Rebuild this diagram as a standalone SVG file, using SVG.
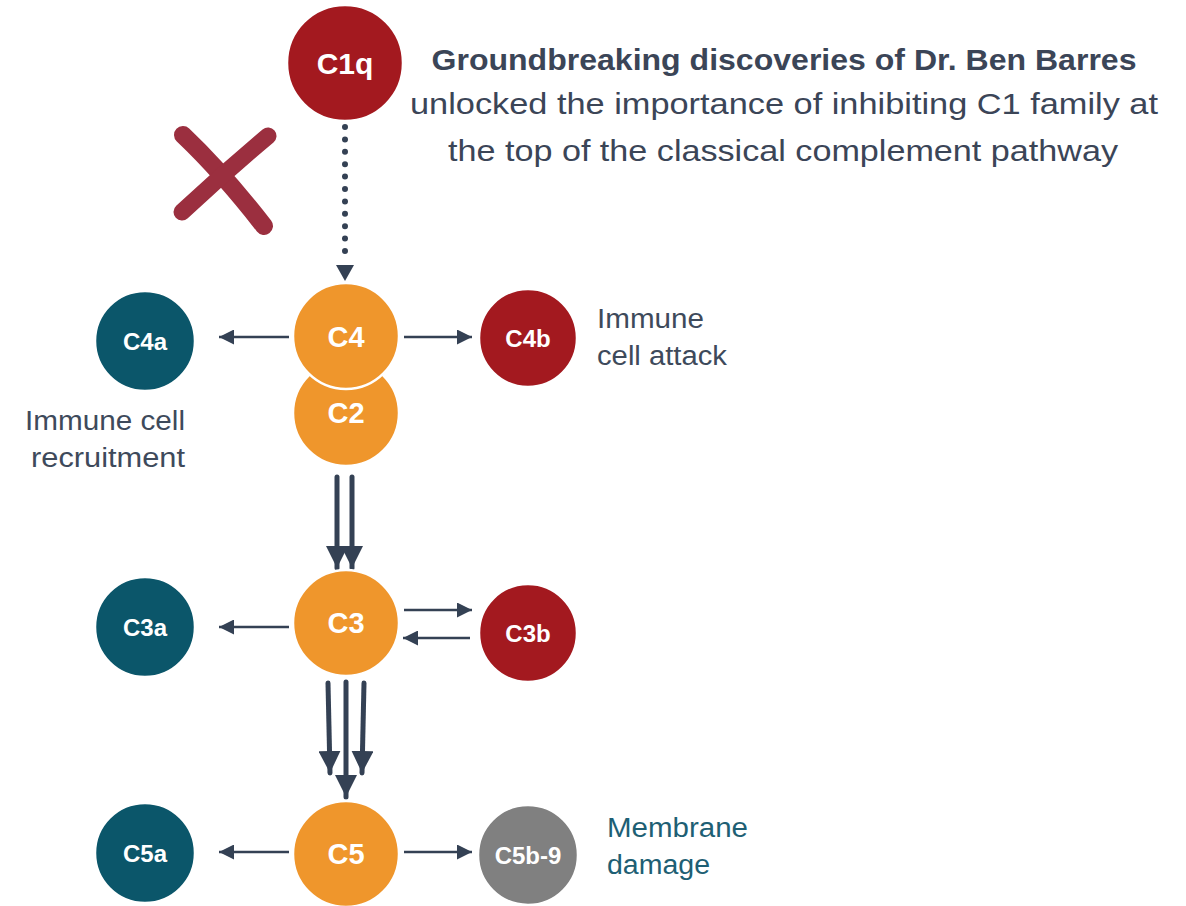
<svg xmlns="http://www.w3.org/2000/svg" width="1186" height="906" viewBox="0 0 1186 906">
<defs>
<style>
.n{stroke:#ffffff;stroke-width:2.5}
.red{fill:#a3191f}.org{fill:#ef962c}.teal{fill:#0b566a}.gray{fill:#808080}
.lbl{font-family:"Liberation Sans",Arial,sans-serif;font-weight:bold;fill:#ffffff;text-anchor:middle}
.s{font-size:24px}.b{font-size:29px}
.txt{font-family:"Liberation Sans",Arial,sans-serif;font-size:27px;fill:#3e4a5b}
.thin{stroke:#344154;stroke-width:2.5;fill:none}
.thick{stroke:#344154;stroke-width:5;fill:none;stroke-linecap:round}
</style>
<marker id="ah" viewBox="0 0 10 10" refX="10" refY="5" markerWidth="6" markerHeight="6" orient="auto" markerUnits="strokeWidth"><path d="M0,0 L10,5 L0,10 z" fill="#344154"/></marker>
<marker id="ahb" viewBox="0 0 10 10" refX="10" refY="5" markerWidth="4.4" markerHeight="4.4" orient="auto" markerUnits="strokeWidth"><path d="M0,0 L10,5 L0,10 z" fill="#344154"/></marker>
</defs>

<g id="connectors">
<line x1="345" y1="127" x2="345" y2="262" stroke="#344154" stroke-width="6" stroke-linecap="round" stroke-dasharray="0 12.4"/>
<path d="M336,265 L354,265 L345,281 z" fill="#344154"/>
<line class="thin" x1="289" y1="337" x2="219" y2="337" marker-end="url(#ah)"/>
<line class="thin" x1="404" y1="337" x2="472" y2="337" marker-end="url(#ah)"/>
<line class="thick" x1="337" y1="477" x2="337" y2="568" marker-end="url(#ahb)"/>
<line class="thick" x1="352" y1="477" x2="352" y2="568" marker-end="url(#ahb)"/>
<line class="thin" x1="289" y1="627" x2="219" y2="627" marker-end="url(#ah)"/>
<line class="thin" x1="404" y1="610" x2="472" y2="610" marker-end="url(#ah)"/>
<line class="thin" x1="470" y1="638" x2="403" y2="638" marker-end="url(#ah)"/>
<line class="thick" x1="328" y1="683" x2="330" y2="773" marker-end="url(#ahb)"/>
<line class="thick" x1="346" y1="682" x2="346" y2="797" marker-end="url(#ahb)"/>
<line class="thick" x1="364" y1="683" x2="362" y2="773" marker-end="url(#ahb)"/>
<line class="thin" x1="289" y1="852" x2="219" y2="852" marker-end="url(#ah)"/>
<line class="thin" x1="404" y1="852" x2="472" y2="852" marker-end="url(#ah)"/>
</g>

<g id="xmark" fill="none" stroke="#9b2f3f" stroke-linecap="round">
<path d="M183,135 Q222,172 264,226" stroke-width="18"/>
<path d="M268,136 Q225,172 182,212" stroke-width="17"/>
</g>

<g id="node-c1q"><circle class="n red" cx="345" cy="63" r="58"/><text class="lbl" x="345" y="74" font-size="30px">C1q</text></g>
<g id="node-c2"><circle class="n org" cx="346" cy="413" r="53"/><text class="lbl b" x="346" y="423">C2</text></g>
<g id="node-c4"><circle class="n org" cx="346" cy="336" r="53"/><text class="lbl b" x="346" y="347">C4</text></g>
<g id="node-c4a"><circle class="n teal" cx="145" cy="341" r="50"/><text class="lbl s" x="145" y="350">C4a</text></g>
<g id="node-c4b"><circle class="n red" cx="528" cy="338" r="49"/><text class="lbl s" x="528" y="347">C4b</text></g>
<g id="node-c3"><circle class="n org" cx="346" cy="623" r="53"/><text class="lbl b" x="346" y="633">C3</text></g>
<g id="node-c3a"><circle class="n teal" cx="145" cy="627" r="50"/><text class="lbl s" x="145" y="636">C3a</text></g>
<g id="node-c3b"><circle class="n red" cx="528" cy="633" r="49"/><text class="lbl s" x="528" y="642">C3b</text></g>
<g id="node-c5"><circle class="n org" cx="346" cy="854" r="53"/><text class="lbl b" x="346" y="864">C5</text></g>
<g id="node-c5a"><circle class="n teal" cx="145" cy="853" r="50"/><text class="lbl s" x="145" y="862">C5a</text></g>
<g id="node-c5b9"><circle class="n gray" cx="528" cy="855" r="50"/><text class="lbl s" x="528" y="864">C5b-9</text></g>

<g id="title" font-family="'Liberation Sans',Arial,sans-serif" fill="#3b4557" text-anchor="middle">
<text x="784" y="70" font-size="30px" font-weight="bold" textLength="705" lengthAdjust="spacingAndGlyphs">Groundbreaking discoveries of Dr. Ben Barres</text>
<text x="784" y="114" font-size="30px" textLength="748" lengthAdjust="spacingAndGlyphs">unlocked the importance of inhibiting C1 family at</text>
<text x="783" y="161" font-size="30px" textLength="670" lengthAdjust="spacingAndGlyphs">the top of the classical complement pathway</text>
</g>

<g id="labels">
<text class="txt" x="597" y="328" textLength="107" lengthAdjust="spacingAndGlyphs">Immune</text>
<text class="txt" x="597" y="365" textLength="130" lengthAdjust="spacingAndGlyphs">cell attack</text>
<text class="txt" x="25" y="430" textLength="160" lengthAdjust="spacingAndGlyphs">Immune cell</text>
<text class="txt" x="31" y="467" textLength="154" lengthAdjust="spacingAndGlyphs">recruitment</text>
<text class="txt" x="607" y="837" style="fill:#1e5f74" textLength="141" lengthAdjust="spacingAndGlyphs">Membrane</text>
<text class="txt" x="607" y="874" style="fill:#1e5f74" textLength="103" lengthAdjust="spacingAndGlyphs">damage</text>
</g>
</svg>
